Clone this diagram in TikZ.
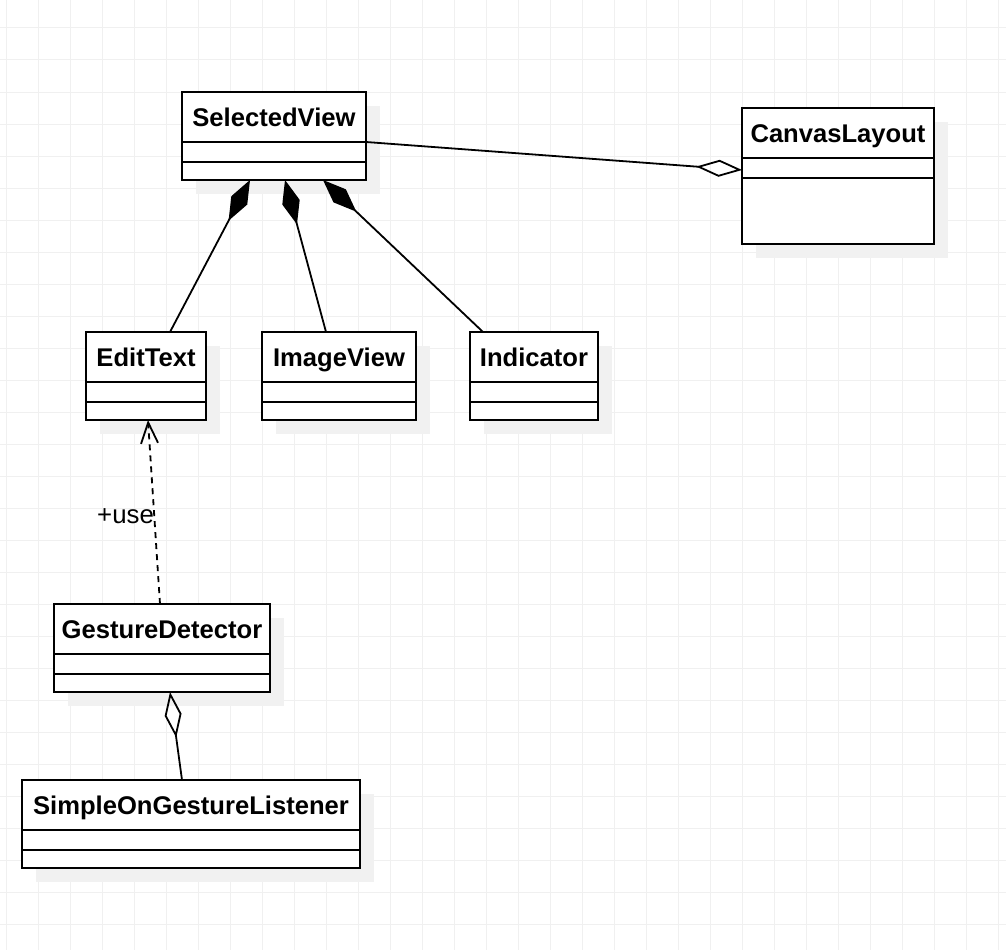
\documentclass[tikz,border=0pt]{standalone}
\usepackage{fontspec}
\setmainfont{Liberation Sans}
\usetikzlibrary{arrows.meta,calc}
\definecolor{gridc}{RGB}{240,240,240}
\definecolor{shadowc}{RGB}{241,241,241}
\begin{document}
\begin{tikzpicture}[x=1pt,y=-1pt,
  gridline/.style={draw=gridc,line width=1pt},
  classbox/.style={draw=black,line width=2pt,fill=white,inner sep=0pt,outer sep=0pt,rectangle},
  classtitle/.style={font=\fontsize{25.6}{30}\selectfont\bfseries,inner sep=0pt,anchor=base},
  divider/.style={draw=black,line width=2pt},
  conn/.style={draw=black,line width=1.8pt},
  composition/.style={conn,{Diamond[length=46pt,width=18pt]}-},
  aggregation/.style={conn,-{Diamond[open,length=46pt,width=17pt]}},
  dependency/.style={conn,dash pattern=on 6pt off 5pt,-{Straight Barb[length=21pt,width=17pt]}},
  uselbl/.style={font=\fontsize{25.8}{30}\selectfont,inner sep=0pt}
]
% background and bounding box
\fill[white] (0,0) rectangle (1006,950);
\useasboundingbox (0,0) rectangle (1006,950);
% grid
\foreach \gx in {6,38,...,998} \draw[gridline] (\gx,0) -- (\gx,950);
\foreach \gy in {28,60,...,924} \draw[gridline] (0,\gy) -- (1006,\gy);

% shadows
\fill[shadowc] (196,106) rectangle (380,194);
\fill[shadowc] (756,122) rectangle (948,258);
\fill[shadowc] (100,346) rectangle (220,434);
\fill[shadowc] (276,346) rectangle (430,434);
\fill[shadowc] (484,346) rectangle (612,434);
\fill[shadowc] (68,618) rectangle (284,706);
\fill[shadowc] (36,794) rectangle (374,882);

% classes
\node[classbox,minimum width=184pt,minimum height=88pt] (sv) at (274,136) {};
\node[classbox,minimum width=192pt,minimum height=136pt] (cl) at (838,176) {};
\node[classbox,minimum width=120pt,minimum height=88pt] (et) at (146,376) {};
\node[classbox,minimum width=154pt,minimum height=88pt] (iv) at (339,376) {};
\node[classbox,minimum width=128pt,minimum height=88pt] (ind) at (534,376) {};
\node[classbox,minimum width=216pt,minimum height=88pt] (gd) at (162,648) {};
\node[classbox,minimum width=338pt,minimum height=88pt] (sl) at (191,824) {};

% titles
\node[classtitle] (sv-t) at ($(sv.north)+(0,34)$) {SelectedView};
\node[classtitle] (cl-t) at ($(cl.north)+(0,34)$) {CanvasLayout};
\node[classtitle] (et-t) at ($(et.north)+(0,34)$) {EditText};
\node[classtitle] (iv-t) at ($(iv.north)+(0,34)$) {ImageView};
\node[classtitle] (ind-t) at ($(ind.north)+(0,34)$) {Indicator};
\node[classtitle] (gd-t) at ($(gd.north)+(0,34)$) {GestureDetector};
\node[classtitle] (sl-t) at ($(sl.north)+(0,34)$) {SimpleOnGestureListener};

% dividers
\foreach \n in {sv,cl,et,iv,ind,gd,sl}{
  \draw[divider] ($(\n.north west)+(0,50)$) -- ($(\n.north east)+(0,50)$);
  \draw[divider] ($(\n.north west)+(0,70)$) -- ($(\n.north east)+(0,70)$);
}

% connectors
\draw[aggregation] ($(sv.north east)+(0,50)$) -- ($(cl.north west)+(0,62)$);
\draw[composition] ($(sv.south west)+(68,0)$) -- ($(et.north west)+(84,0)$);
\draw[composition] ($(sv.south west)+(103,0)$) -- ($(iv.north west)+(64,0)$);
\draw[composition] ($(sv.south west)+(141,0)$) -- ($(ind.north west)+(13,0)$);
\draw[dependency] ($(gd.north west)+(106,0)$) -- node[uselbl,pos=0.435,anchor=base east] (use) {+use} ($(et.south west)+(62,0)$);
\draw[aggregation] ($(sl.north west)+(160,0)$) -- ($(gd.south west)+(116,0)$);
\end{tikzpicture}
\end{document}
